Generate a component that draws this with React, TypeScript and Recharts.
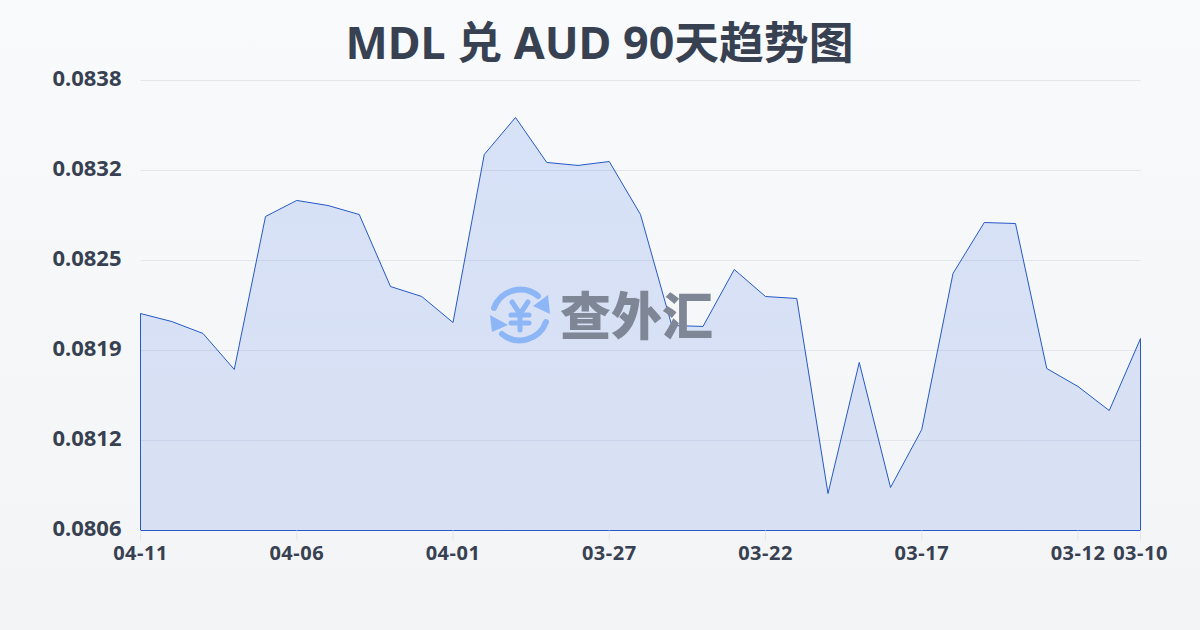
import { AreaChart, Area, XAxis, YAxis, CartesianGrid, ReferenceLine } from "recharts";

const FONT = '"Noto Sans", "Noto Sans CJK SC", sans-serif';

const dates = [
  "04-11","04-10","04-09","04-08","04-07","04-06","04-05","04-04","04-03","04-02","04-01",
  "03-31","03-30","03-29","03-28","03-27","03-26","03-25","03-24","03-23","03-22","03-21",
  "03-20","03-19","03-18","03-17","03-16","03-15","03-14","03-13","03-12","03-11","03-10",
];
const rates = [
  0.082143,0.082086,0.082001,0.081745,0.082833,0.082947,0.082911,0.082847,0.082335,0.082264,0.082079,
  0.083274,0.083537,0.083217,0.083196,0.083224,0.082847,0.082058,0.082051,0.082456,0.082264,0.08225,
  0.080863,0.081795,0.080906,0.081318,0.082428,0.08279,0.082783,0.081752,0.081624,0.081453,0.081965,
];
const xTicks = ["04-11","04-06","04-01","03-27","03-22","03-17","03-12","03-10"];
const yTicks = [0.0806,0.08124,0.08188,0.08252,0.08316,0.0838];

const LINE = "#2559c6";
const data = dates.map((date, i) => ({ date, rate: rates[i] }));

function Logo() {
  return (
    <div style={{ position: "absolute", left: 488, top: 282, display: "flex", alignItems: "center", pointerEvents: "none" }}>
      <svg width={64} height={66} viewBox="0 0 64 66">
        <g fill="none" stroke="#8db6f7" strokeWidth={6} strokeLinecap="round">
          <path d="M6 26 A28 28 0 0 1 50 14" />
          <path d="M58 40 A28 28 0 0 1 14 52" />
          <path d="M24 20 L32 32 L40 20 M32 32 V48 M23 33 H41 M23 41 H41" strokeWidth={5} />
        </g>
        <path d="M60 13 L62 32 L45 24 Z" fill="#8db6f7" />
        <path d="M2 33 L20 43 L4 50 Z" fill="#8db6f7" />
      </svg>
      <span style={{ marginLeft: 8, font: `900 51px ${FONT}`, color: "#7f8695", lineHeight: "66px", letterSpacing: 0 }}>查外汇</span>
    </div>
  );
}

export default function App() {
  return (
    <div style={{ position: "absolute", left: 0, top: 0, width: 1200, height: 630, overflow: "hidden", background: "linear-gradient(180deg,#f8fafc 0%,#f3f4f6 100%)" }}>
      <div style={{ position: "absolute", left: 0, top: 10, width: 1199, textAlign: "center", font: `700 44.8px ${FONT}`, color: "#374151", lineHeight: "64px" }}>
        MDL 兑 AUD 90天趋势图
      </div>
      <AreaChart width={1200} height={630} data={data} margin={{ top: 80.5, right: 59.5, bottom: 69.5, left: 0.5 }}>
        <defs>
          <linearGradient id="rateFill" x1="0" y1="0" x2="0" y2="1">
            <stop offset="0%" stopColor="#3068e4" stopOpacity={0.16} />
            <stop offset="100%" stopColor="#3060dc" stopOpacity={0.14} />
          </linearGradient>
        </defs>
        <CartesianGrid vertical={false} stroke="#e3e6eb" />
        <XAxis
          dataKey="date"
          ticks={xTicks}
          interval={0}
          axisLine={false}
          tickLine={{ stroke: "#e3e6eb" }}
          tickSize={10}
          tickMargin={5}
          tick={{ fontFamily: FONT, fontSize: 20, fontWeight: 700, fill: "#374151", letterSpacing: 0.5 }}
        />
        <YAxis
          width={140}
          domain={[0.0806, 0.0838]}
          ticks={yTicks}
          interval={0}
          axisLine={false}
          tickLine={false}
          tickMargin={13}
          tickFormatter={(v: number) => v.toFixed(4)}
          tick={{ fontFamily: FONT, fontSize: 22, fontWeight: 700, fill: "#374151", dy: -2 }}
        />
        <Area
          type="linear"
          dataKey="rate"
          stroke={LINE}
          strokeWidth={1}
          fill="url(#rateFill)"
          fillOpacity={1}
          dot={false}
          activeDot={false}
          isAnimationActive={false}
        />
        <ReferenceLine y={yTicks[0]} stroke={LINE} strokeWidth={1} />
        <ReferenceLine segment={[{ x: dates[0], y: yTicks[0] }, { x: dates[0], y: rates[0] }]} stroke={LINE} strokeWidth={1} />
        <ReferenceLine segment={[{ x: dates[32], y: yTicks[0] }, { x: dates[32], y: rates[32] }]} stroke={LINE} strokeWidth={1} />
      </AreaChart>
      <Logo />
    </div>
  );
}
